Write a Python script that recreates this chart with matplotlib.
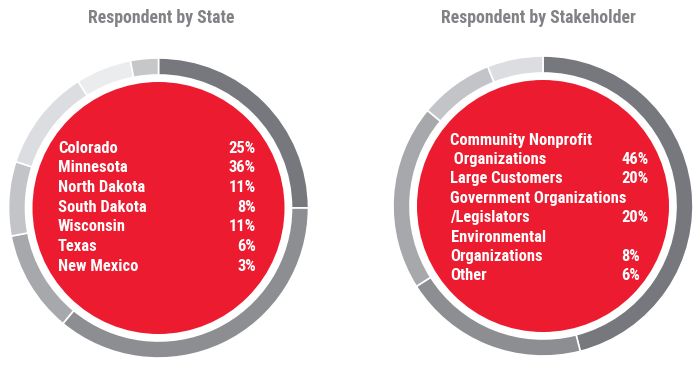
import matplotlib
matplotlib.use("Agg")
import matplotlib.pyplot as plt
from matplotlib.patches import Circle

# ---- data ----
state_labels = ["Colorado", "Minnesota", "North Dakota", "South Dakota",
                "Wisconsin", "Texas", "New Mexico"]
state_values = [25, 36, 11, 8, 11, 6, 3]
state_colors = ["#76787d", "#8c8e92", "#a6a8ab", "#c2c4c7", "#dcdde0",
                "#ebecee", "#c6c7c9"]

stake_labels = ["Community Nonprofit\n Organizations", "Large Customers",
                "Government Organizations\n/Legislators",
                "Environmental\nOrganizations", "Other"]
stake_values = [46, 20, 20, 8, 6]
stake_colors = ["#76787d", "#8c8e92", "#a6a8ab", "#c2c4c7", "#dcdde0"]

titles = ["Respondent by State", "Respondent by Stakeholder"]

RED = "#ed1b2f"
TITLE_GRAY = "#808285"
FONT = ["Roboto Condensed", "DejaVu Sans"]
BODY_FS = 11.9
TITLE_FS = 12.8

W, H = 700, 374
fig = plt.figure(figsize=(7.0, 3.74), dpi=100)
ax = fig.add_axes([0, 0, 1, 1])


def Y(py):
    return H - py


def ring(cx, cy, values, colors):
    ax.pie(values, colors=colors, startangle=90, counterclock=False,
           radius=150, center=(cx, Y(cy)),
           wedgeprops=dict(width=17, edgecolor="white", linewidth=1.2))
    ax.add_patch(Circle((cx, Y(cy)), 126, facecolor=RED, edgecolor="none",
                        zorder=3))


# left chart
ring(158.5, 208, state_values, state_colors)
ax.text(161.5, Y(18), titles[0], ha="center", va="center", fontsize=TITLE_FS,
        fontweight="bold", color=TITLE_GRAY, family=FONT)
y0, dy = 148, 19.7
for i, (lab, v) in enumerate(zip(state_labels, state_values)):
    yy = Y(y0 + i * dy)
    ax.text(58, yy, lab, ha="left", va="center", fontsize=BODY_FS,
            fontweight="bold", color="white", family=FONT, zorder=4)
    ax.text(256, yy, f"{v}%", ha="right", va="center", fontsize=BODY_FS,
            fontweight="bold", color="white", family=FONT, zorder=4)

# right chart
ring(543, 206, stake_values, stake_colors)
ax.text(538.5, Y(18), titles[1], ha="center", va="center", fontsize=TITLE_FS,
        fontweight="bold", color=TITLE_GRAY, family=FONT)
row = 0
y0r, dyr = 140, 19.4
for lab, v in zip(stake_labels, stake_values):
    lines = lab.split("\n")
    for j, ln in enumerate(lines):
        yy = Y(y0r + row * dyr)
        ax.text(450.5, yy, ln, ha="left", va="center", fontsize=BODY_FS,
                fontweight="bold", color="white", family=FONT, zorder=4)
        if j == len(lines) - 1:
            ax.text(621, yy, f"{v}%", ha="left", va="center", fontsize=BODY_FS,
                    fontweight="bold", color="white", family=FONT, zorder=4)
        row += 1

ax.set_xlim(0, W)
ax.set_ylim(0, H)
ax.set_aspect("auto")
ax.axis("off")
fig.savefig("out.png", dpi=100, facecolor="white")
